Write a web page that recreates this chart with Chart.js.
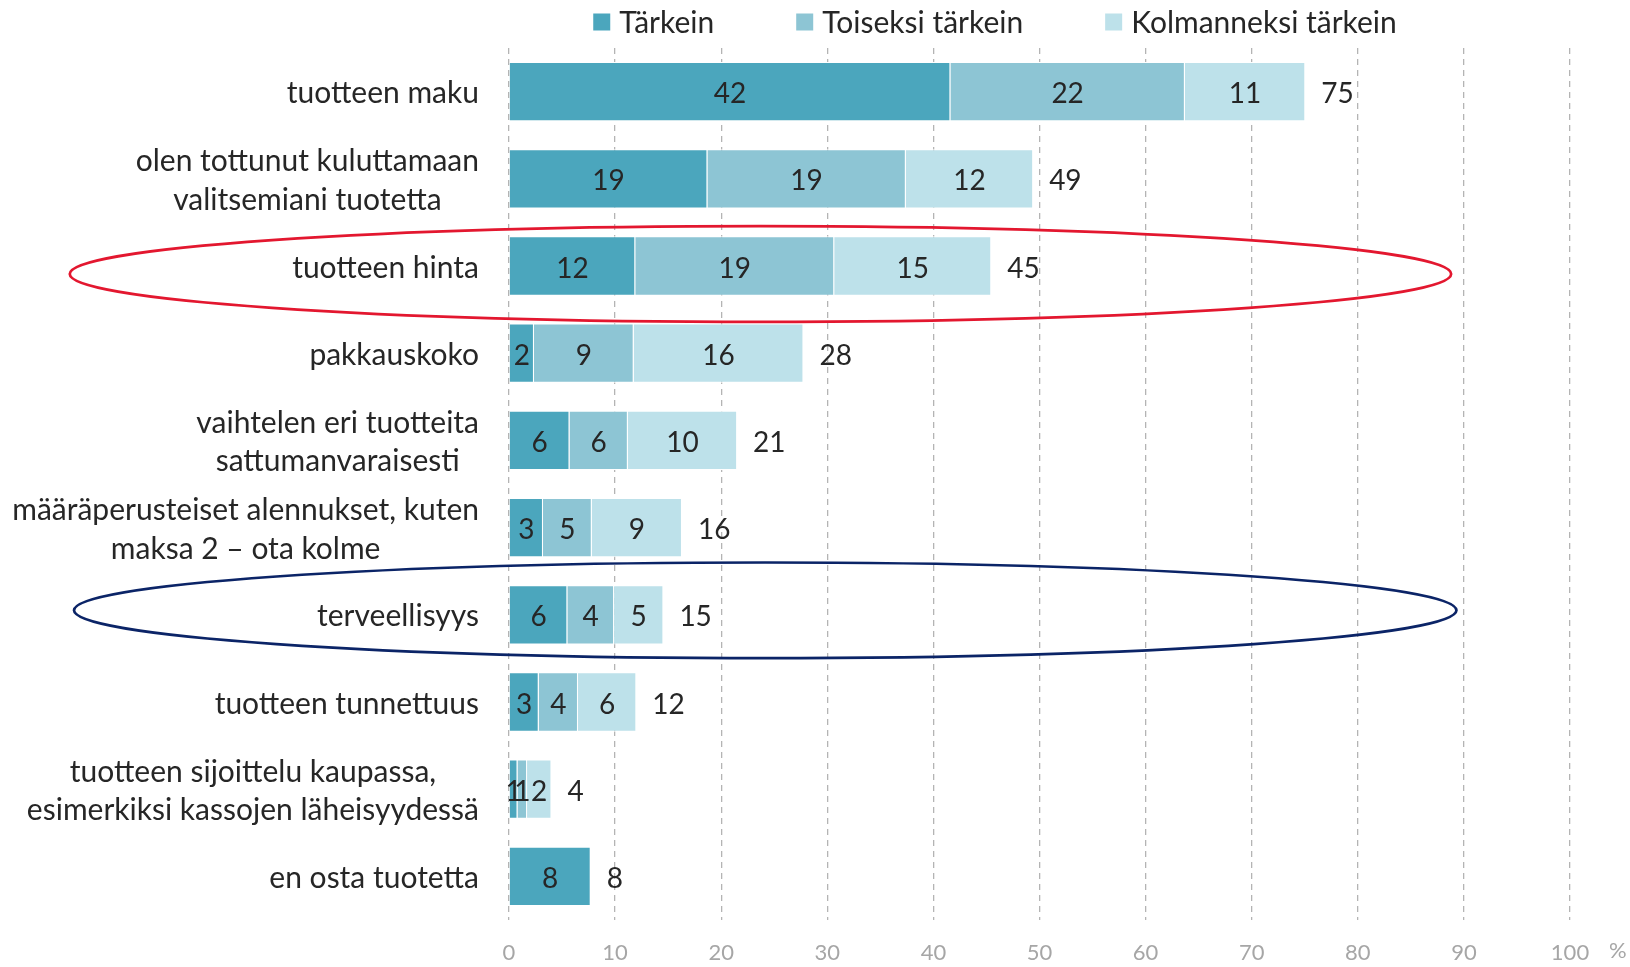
<!DOCTYPE html>
<html><head><meta charset="utf-8">
<script src="https://cdn.jsdelivr.net/npm/chart.js@4.4.1/dist/chart.umd.min.js"></script>
<style>html,body{margin:0;padding:0;background:#fff}#wrap{width:1630px;height:967px;position:relative}</style>
</head><body><div id="wrap"><canvas id="c"></canvas></div>
<script>
const categories = [
  ["tuotteen maku"],
  ["olen tottunut kuluttamaan", "valitsemiani tuotetta"],
  ["tuotteen hinta"],
  ["pakkauskoko"],
  ["vaihtelen eri tuotteita", "sattumanvaraisesti"],
  ["määräperusteiset alennukset, kuten", "maksa 2 – ota kolme"],
  ["terveellisyys"],
  ["tuotteen tunnettuus"],
  ["tuotteen sijoittelu kaupassa,", "esimerkiksi kassojen läheisyydessä"],
  ["en osta tuotetta"]
];
const seriesNames = ["Tärkein", "Toiseksi tärkein", "Kolmanneksi tärkein"];
const tarkein     = [41.6, 18.7, 11.9, 2.35, 5.7, 3.2, 5.5, 2.8, 0.8, 7.7];
const toiseksi    = [22.1, 18.7, 18.75, 9.4, 5.5, 4.6, 4.4, 3.7, 0.9, 0];
const kolmanneksi = [11.35, 12.0, 14.8, 16.0, 10.3, 8.5, 4.65, 5.5, 2.3, 0];
const totals      = [75, 49, 45, 28, 21, 16, 15, 12, 4, 8];
const xTickValues = [0, 10, 20, 30, 40, 50, 60, 70, 80, 90, 100];
const unitLabel = "%";
const colors = ["#4BA6BD", "#8DC5D4", "#BDE1EA"];

const FONT = "Lato";
const TEXT = "#262626";

const labelsPlugin = {
  id: "labelsPlugin",
  afterDatasetsDraw(chart) {
    const ctx = chart.ctx;
    const xs = chart.scales.x, ys = chart.scales.y, ca = chart.chartArea;
    ctx.save();
    // segment values
    ctx.font = "28px " + FONT;
    ctx.fillStyle = TEXT;
    ctx.textAlign = "center";
    ctx.textBaseline = "middle";
    chart.data.datasets.forEach((ds, di) => {
      const meta = chart.getDatasetMeta(di);
      meta.data.forEach((bar, i) => {
        const v = ds.data[i];
        if (v > 0.05) {
          ctx.fillText(String(Math.round(v)), (bar.x + bar.base) / 2, bar.y + 2.5);
        }
      });
    });
    // totals
    ctx.textAlign = "left";
    totals.forEach((t, i) => {
      let sum = 0;
      chart.data.datasets.forEach(ds => sum += ds.data[i]);
      ctx.fillText(String(t), xs.getPixelForValue(sum) + 16, ys.getPixelForValue(i) + 2.5);
    });
    // category labels
    ctx.font = "30px " + FONT;
    ctx.textAlign = "center";
    const right = ca.left - 30;
    categories.forEach((lines, i) => {
      const cy = ys.getPixelForValue(i) + 2;
      const maxW = Math.max(...lines.map(l => ctx.measureText(l).width));
      const cx = right - maxW / 2;
      const lh = 38.5;
      lines.forEach((l, k) => {
        const y = cy + (k - (lines.length - 1) / 2) * lh;
        ctx.fillText(l, cx, y);
      });
    });
    // unit label
    ctx.font = "22px " + FONT;
    ctx.fillStyle = "#A6A6A6";
    ctx.textAlign = "left";
    ctx.fillText(unitLabel, xs.getPixelForValue(100) + 39, ca.bottom + 31);
    ctx.restore();
  },
  afterDraw(chart) {
    const ctx = chart.ctx;
    const xs = chart.scales.x, ys = chart.scales.y;
    // highlight ellipses
    const ell = [
      {row: 2, from: -41.4, to: 88.8, dy: 8, color: "#E3172F"},
      {row: 6, from: -41.0, to: 89.3, dy: -4.5, color: "#0B2467"}
    ];
    ctx.save();
    ell.forEach(e => {
      const x1 = xs.getPixelForValue(e.from), x2 = xs.getPixelForValue(e.to);
      const cy = ys.getPixelForValue(e.row) + e.dy;
      ctx.beginPath();
      ctx.ellipse((x1 + x2) / 2, cy, (x2 - x1) / 2, 47.8, 0, 0, Math.PI * 2);
      ctx.strokeStyle = e.color;
      ctx.lineWidth = 2.7;
      ctx.stroke();
    });
    // legend
    ctx.font = "30px " + FONT;
    ctx.textBaseline = "middle";
    ctx.textAlign = "left";
    const box = 17, gapT = 9, gapI = 82;
    const items = chart.data.datasets.map(ds => ({t: ds.label, c: ds.backgroundColor, w: ctx.measureText(ds.label).width}));
    const total = items.reduce((a, it) => a + box + gapT + it.w, 0) + gapI * (items.length - 1);
    let x = 995 - total / 2;
    const ly = 22;
    items.forEach(it => {
      ctx.fillStyle = it.c;
      ctx.fillRect(x, ly - box / 2, box, box);
      ctx.fillStyle = TEXT;
      ctx.fillText(it.t, x + box + gapT, ly + 1);
      x += box + gapT + it.w + gapI;
    });
    ctx.restore();
  }
};

new Chart(document.getElementById("c"), {
  type: "bar",
  data: {
    labels: categories,
    datasets: [
      {label: seriesNames[0], data: tarkein, backgroundColor: colors[0]},
      {label: seriesNames[1], data: toiseksi, backgroundColor: colors[1]},
      {label: seriesNames[2], data: kolmanneksi, backgroundColor: colors[2]}
    ].map(d => Object.assign(d, {borderColor: "#ffffff", borderWidth: 1, borderSkipped: "start", barPercentage: 0.68, categoryPercentage: 1}))
  },
  options: {
    indexAxis: "y",
    responsive: true,
    maintainAspectRatio: false,
    animation: false,
    layout: {padding: {top: 48, right: 60, left: 0, bottom: 0}},
    plugins: {legend: {display: false}, tooltip: {enabled: false}},
    scales: {
      x: {
        stacked: true, min: 0, max: 100,
        afterBuildTicks(s) { s.ticks = xTickValues.map(v => ({value: v})); },
        ticks: {color: "#A6A6A6", font: {family: FONT, size: 22}, padding: 20, maxRotation: 0},
        grid: {color: "#B4B4B4", lineWidth: 1.3, drawTicks: false},
        border: {display: false, dash: [6, 5]},
        afterFit(s) { s.height = 47; }
      },
      y: {
        stacked: true,
        ticks: {display: false},
        grid: {display: false},
        border: {display: false},
        afterFit(s) { s.width = 509; }
      }
    }
  },
  plugins: [labelsPlugin]
});
</script>
</body></html>
